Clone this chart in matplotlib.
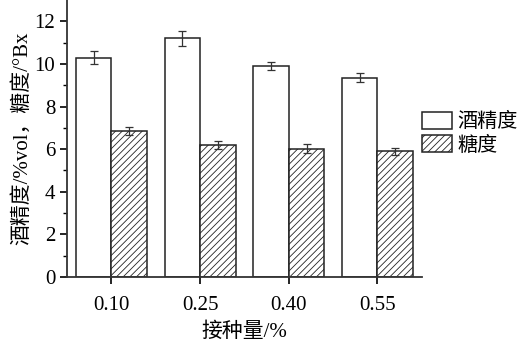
import matplotlib
matplotlib.use('Agg')
import matplotlib.pyplot as plt
import numpy as np

plt.rcParams['font.family'] = ['Liberation Serif', 'Noto Sans CJK SC']
plt.rcParams['hatch.linewidth'] = 0.6

# data
doses = ['0.10', '0.25', '0.40', '0.55']
alcohol = [10.3, 11.2, 9.9, 9.35]
alcohol_err = [0.32, 0.36, 0.18, 0.22]
sugar = [6.85, 6.2, 6.02, 5.9]
sugar_err = [0.17, 0.17, 0.2, 0.16]

x = np.arange(len(doses))
w = 0.4

fig = plt.figure(figsize=(5.24, 3.52), dpi=100)
ax = fig.add_axes([0.128, 0.213, 0.677, 0.787])

ax.bar(x - w / 2, alcohol, w, color='white', edgecolor='#222222', linewidth=1.1,
       yerr=alcohol_err, capsize=3, error_kw=dict(elinewidth=0.9, capthick=0.9, ecolor='#333333'),
       label='酒精度')
ax.bar(x + w / 2, sugar, w, color='white', edgecolor='#222222', linewidth=1.1, hatch='/////',
       yerr=sugar_err, capsize=3, error_kw=dict(elinewidth=0.9, capthick=0.9, ecolor='#333333'),
       label='糖度')

ax.set_xlim(-0.5, 3.5)
ax.set_ylim(0, 13)
ax.set_xticks(x)
ax.set_xticklabels(doses)
ax.set_yticks([0, 2, 4, 6, 8, 10, 12])
ax.set_yticks(np.arange(1, 13, 2), minor=True)
ax.tick_params(axis='both', direction='out', labelsize=15, width=1.2, length=5)
ax.tick_params(axis='y', which='minor', direction='out', length=3, width=1.0)
ax.tick_params(axis='x', pad=9)
for s in ['top', 'right']:
    ax.spines[s].set_visible(False)
for s in ['left', 'bottom']:
    ax.spines[s].set_linewidth(1.3)
    ax.spines[s].set_color('#333333')

ax.set_xlabel('接种量/%', fontsize=15, labelpad=5)
ax.set_ylabel('酒精度/%vol，糖度/°Bx', fontsize=15, labelpad=2)

ax.legend(loc='center left', bbox_to_anchor=(0.805, 0.62), bbox_transform=fig.transFigure,
          frameon=False, fontsize=14.5, handlelength=1.5, handleheight=0.9,
          handletextpad=0.25, labelspacing=0.15, borderaxespad=0, borderpad=0)

fig.savefig('out.png', dpi=100)
